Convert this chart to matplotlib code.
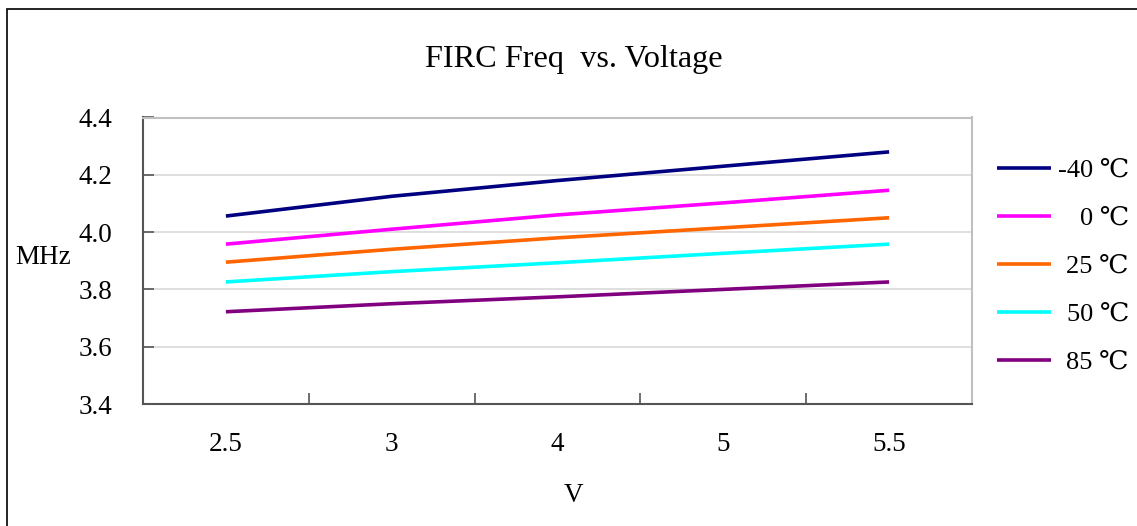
import matplotlib
matplotlib.use("Agg")
import matplotlib.pyplot as plt
from matplotlib.lines import Line2D
from matplotlib.patches import Rectangle

plt.rcParams['font.family'] = ['Liberation Serif', 'DejaVu Serif']

voltages = ["2.5", "3", "4", "5", "5.5"]
series_labels = ["-40 \u2103", "0 \u2103", "25 \u2103", "50 \u2103", "85 \u2103"]
freq_m40 = [4.056, 4.125, 4.180, 4.230, 4.280]
freq_0 = [3.958, 4.010, 4.060, 4.102, 4.146]
freq_25 = [3.895, 3.940, 3.980, 4.015, 4.050]
freq_50 = [3.826, 3.862, 3.893, 3.926, 3.958]
freq_85 = [3.722, 3.750, 3.774, 3.800, 3.826]
series = [freq_m40, freq_0, freq_25, freq_50, freq_85]
colors = ["#000080", "#FF00FF", "#FF6600", "#00FFFF", "#800080"]
y_ticks = [3.4, 3.6, 3.8, 4.0, 4.2, 4.4]

W, H = 1137, 526
fig = plt.figure(figsize=(W / 100, H / 100), dpi=100)

# outer chart frame
fig.patches.append(Rectangle((7 / W, -0.05), 1.1, 1 - 9 / H + 0.05, transform=fig.transFigure,
                             fill=False, edgecolor="black", linewidth=1.2))

left, right, top, bottom = 143, 972, 117.5, 404
ax = fig.add_axes([left / W, 1 - bottom / H, (right - left) / W, (bottom - top) / H])

x = list(range(len(voltages)))
for vals, c, lab in zip(series, colors, series_labels):
    ax.plot(x, vals, color=c, linewidth=2.6, label=lab, solid_capstyle="butt")

ax.set_xlim(-0.5, len(voltages) - 0.5)
ax.set_ylim(3.4, 4.4)
ax.set_yticks(y_ticks)
ax.set_yticklabels([f"{v:.1f}" for v in y_ticks])
ax.yaxis.grid(True, color="#d9d9d9", linewidth=1.2)
ax.set_axisbelow(True)

ax.set_xticks([i - 0.5 for i in range(len(voltages) + 1)])
ax.set_xticklabels([])
ax.set_xticks(x, minor=True)
ax.set_xticklabels(voltages, minor=True)
ax.tick_params(axis="x", which="minor", length=0, pad=20, labelsize=19.5)
ax.tick_params(axis="x", which="major", direction="in", length=8, color="#555555", width=1.2)
ax.tick_params(axis="y", direction="in", length=8, color="#555555", width=1.2, labelsize=19.5, pad=22)

for s in ["top", "right"]:
    ax.spines[s].set_color("#c0c0c0")
    ax.spines[s].set_linewidth(1.5)
for s in ["left", "bottom"]:
    ax.spines[s].set_color("#555555")
    ax.spines[s].set_linewidth(1.5)

fig.text(574 / W, 1 - 60 / H, "FIRC Freq  vs. Voltage", ha="center", va="center", fontsize=23.2)
fig.text(43 / W, 1 - 257 / H, "MHz", ha="center", va="center", fontsize=19.5)
fig.text(574 / W, 1 - 495 / H, "V", ha="center", va="center", fontsize=19.5)

# legend
leg_y = [168, 216, 264, 312, 360]
for yy, c, lab in zip(leg_y, colors, series_labels):
    fig.add_artist(Line2D([997 / W, 1051 / W], [1 - yy / H, 1 - yy / H], color=c, linewidth=2.6,
                          transform=fig.transFigure, solid_capstyle="butt"))
    fig.text(1129 / W, 1 - (yy + 3) / H, lab, ha="right", va="center", fontsize=19)

fig.savefig("out.png", dpi=100)
